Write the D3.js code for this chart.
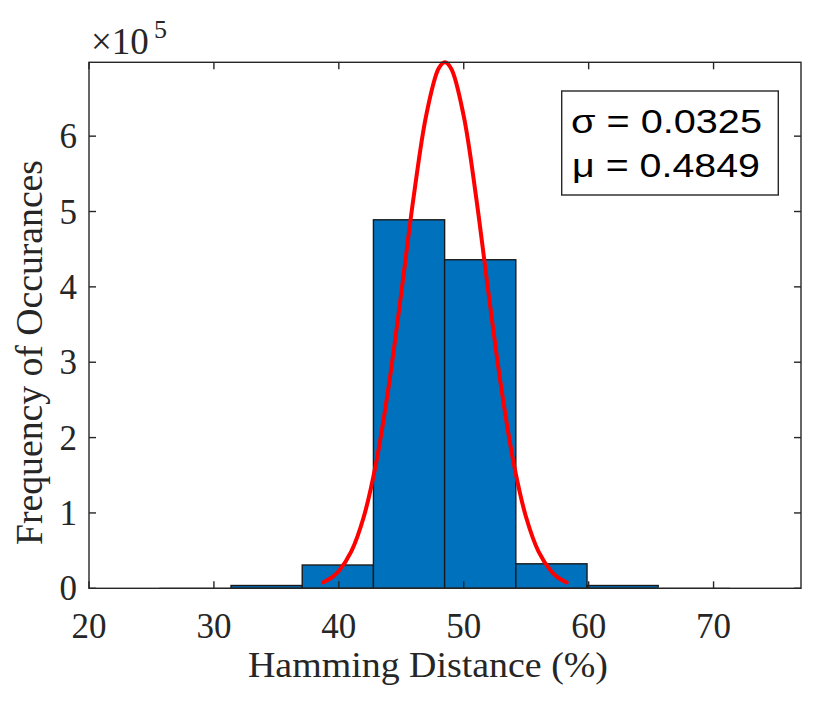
<!DOCTYPE html>
<html>
<head>
<meta charset="utf-8">
<script src="https://cdn.jsdelivr.net/npm/d3@7"></script>
<style>
  body { margin: 0; background: #fff; }
</style>
</head>
<body>
<svg id="chart" width="830" height="708"></svg>
<script>
// Histogram bins (Hamming distance, %), counts
const binEdges = [25.67, 31.37, 37.07, 42.77, 48.47, 54.17, 59.87, 65.57, 71.27];
const binCounts = [60, 3700, 30900, 489000, 436000, 32500, 3700, 60];

// Fitted normal curve
const fitX = [38.74, 39.5, 40, 41, 42, 43, 44, 45, 46, 47, 48, 48.49, 49, 50, 51, 52, 53, 54, 55, 56, 57, 57.5, 58.24];
const fitY = [7750, 15200, 23000, 49000, 95000, 167500, 269000, 392000, 520500, 628000, 690000, 698000,
  689500, 626600, 518000, 389500, 266500, 165800, 93900, 48300, 22600, 14900, 7750];

const xTicks = [20, 30, 40, 50, 60, 70];
const yTicks = [0, 1, 2, 3, 4, 5, 6]; // in units of 10^5
const statLines = ["σ = 0.0325", "μ = 0.4849"];
const xLabel = "Hamming Distance (%)";
const yLabel = "Frequency of Occurances";

const svg = d3.select("#chart");
const axisColor = "#262626";
const serif = "'Liberation Serif', 'Times New Roman', serif";
const sans = "'Liberation Sans', Arial, sans-serif";

const x = d3.scaleLinear().domain([20, 77]).range([89, 801]);
const y = d3.scaleLinear().domain([0, 698000]).range([588.3, 62.3]);
const [x0, x1] = x.range();
const [y0, y1] = y.range();

svg.append("rect").attr("width", 830).attr("height", 708).attr("fill", "#fff");

// Bars
const bins = binCounts.map((c, i) => ({ a: binEdges[i], b: binEdges[i + 1], c }));
svg.append("g")
  .selectAll("rect")
  .data(bins)
  .join("rect")
  .attr("x", (d) => x(d.a))
  .attr("y", (d) => y(d.c))
  .attr("width", (d) => x(d.b) - x(d.a))
  .attr("height", (d) => y(0) - y(d.c))
  .attr("fill", "#0072BD")
  .attr("stroke", (d) => (d.c < 1000 ? "#999" : "#1a1a1a"))
  .attr("stroke-width", 1.4);

// Fitted curve
const line = d3.line()
  .x((d) => x(d[0]))
  .y((d) => y(d[1]))
  .curve(d3.curveCatmullRom);
svg.append("path")
  .datum(fitX.map((v, i) => [v, fitY[i]]))
  .attr("d", line)
  .attr("fill", "none")
  .attr("stroke", "#ff0000")
  .attr("stroke-width", 4)
  .attr("stroke-linecap", "round");

// Axes box
svg.append("rect")
  .attr("x", x0).attr("y", y1)
  .attr("width", x1 - x0).attr("height", y0 - y1)
  .attr("fill", "none")
  .attr("stroke", axisColor)
  .attr("stroke-width", 1.4);

const tl = 7;
const ticks = svg.append("g").attr("stroke", axisColor).attr("stroke-width", 1.4);
xTicks.forEach((t) => {
  ticks.append("line").attr("x1", x(t)).attr("x2", x(t)).attr("y1", y0).attr("y2", y0 - tl);
  ticks.append("line").attr("x1", x(t)).attr("x2", x(t)).attr("y1", y1).attr("y2", y1 + tl);
});
yTicks.forEach((t) => {
  const yy = y(t * 1e5);
  ticks.append("line").attr("x1", x0).attr("x2", x0 + tl).attr("y1", yy).attr("y2", yy);
  ticks.append("line").attr("x1", x1).attr("x2", x1 - tl).attr("y1", yy).attr("y2", yy);
});

// Tick labels
svg.append("g")
  .selectAll("text")
  .data(xTicks)
  .join("text")
  .attr("x", (d) => x(d))
  .attr("y", 638)
  .attr("text-anchor", "middle")
  .style("font-family", serif)
  .style("font-size", "35px")
  .attr("fill", axisColor)
  .text((d) => d);

svg.append("g")
  .selectAll("text")
  .data(yTicks)
  .join("text")
  .attr("x", 77)
  .attr("y", (d) => y(d * 1e5) + 12)
  .attr("text-anchor", "end")
  .style("font-family", serif)
  .style("font-size", "35px")
  .attr("fill", axisColor)
  .text((d) => d);

// Exponent label
const expo = svg.append("text")
  .attr("x", 91)
  .attr("y", 54)
  .style("font-family", serif)
  .style("font-size", "37px")
  .attr("fill", axisColor);
expo.append("tspan").text("×10");
expo.append("tspan").attr("dx", 5).attr("dy", -16).style("font-size", "26px").text("5");

// Axis labels
svg.append("text")
  .attr("x", 248)
  .attr("y", 677)
  .attr("textLength", 360)
  .attr("lengthAdjust", "spacingAndGlyphs")
  .style("font-family", serif)
  .style("font-size", "35px")
  .attr("fill", axisColor)
  .text(xLabel);

svg.append("text")
  .attr("transform", "translate(42,545) rotate(-90)")
  .attr("textLength", 385)
  .attr("lengthAdjust", "spacingAndGlyphs")
  .style("font-family", serif)
  .style("font-size", "37px")
  .attr("fill", axisColor)
  .text(yLabel);

// Stats box
svg.append("rect")
  .attr("x", 561.7).attr("y", 91)
  .attr("width", 216.6).attr("height", 104)
  .attr("fill", "#fff")
  .attr("stroke", axisColor)
  .attr("stroke-width", 1.4);

svg.append("g")
  .selectAll("text")
  .data(statLines)
  .join("text")
  .attr("x", (d, i) => (i === 0 ? 571 : 572))
  .attr("y", (d, i) => 133.3 + i * 43.4)
  .attr("textLength", (d, i) => (i === 0 ? 191 : 188))
  .attr("lengthAdjust", "spacingAndGlyphs")
  .style("font-family", sans)
  .style("font-size", "33px")
  .attr("fill", "#000")
  .text((d) => d);
</script>
</body>
</html>
